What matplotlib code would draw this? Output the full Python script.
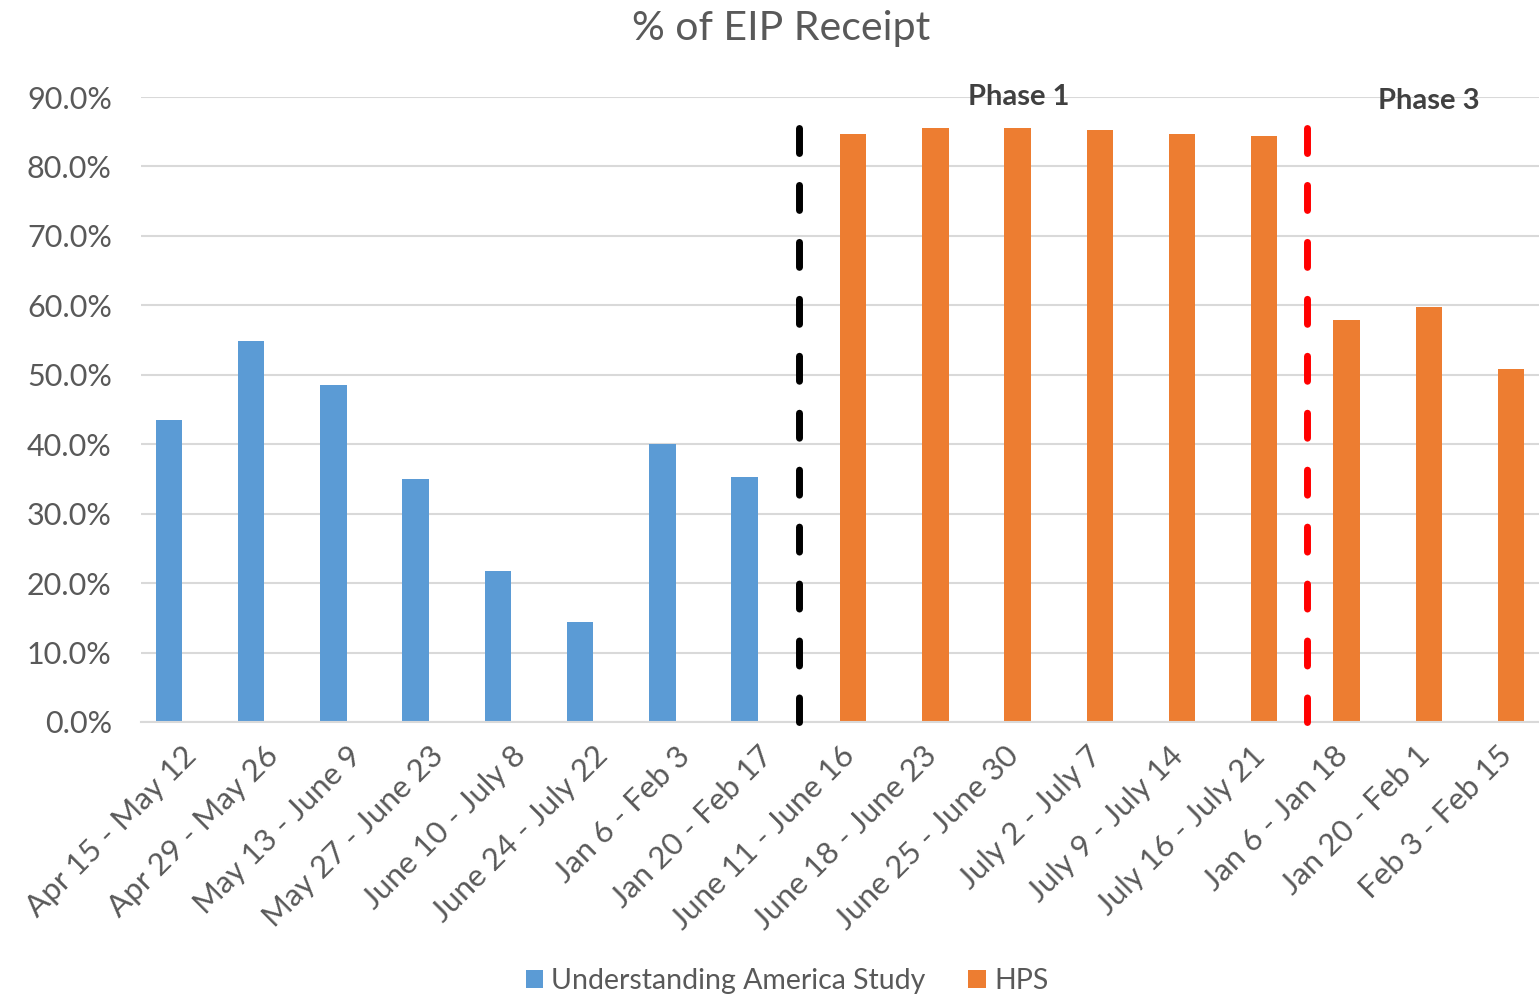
import matplotlib.pyplot as plt
import numpy as np

plt.rcParams['font.family'] = ['Lato', 'DejaVu Sans']

# categories (survey windows)
categories = ['Apr 15 - May 12', 'Apr 29 - May 26', 'May 13 - June 9', 'May 27 - June 23',
              'June 10 - July 8', 'June 24 - July 22', 'Jan 6 - Feb 3', 'Jan 20 - Feb 17',
              'June 11 - June 16', 'June 18 - June 23', 'June 25 - June 30', 'July 2 - July 7',
              'July 9 - July 14', 'July 16 - July 21', 'Jan 6 - Jan 18', 'Jan 20 - Feb 1',
              'Feb 3 - Feb 15']

# Understanding America Study (first 8 windows)
uas_values = [43.5, 54.8, 48.5, 35.0, 21.8, 14.4, 40.0, 35.3]
# HPS (remaining 9 windows)
hps_values = [84.7, 85.5, 85.5, 85.2, 84.7, 84.4, 57.9, 59.8, 50.9]

blue = '#5B9BD5'
orange = '#ED7D31'
gray = '#595959'

fig = plt.figure(figsize=(15.39, 9.98), dpi=100)
ax = fig.add_axes([0.0916, 0.2766, 0.9084, 0.6262])

x = np.arange(len(categories))
w = 0.32
off = 0.16
ax.bar(x[:len(uas_values)] - off, uas_values, width=w, color=blue, label='Understanding America Study')
ax.bar(x[len(uas_values):] + off, hps_values, width=w, color=orange, label='HPS')

# phase separators
ax.plot([7.5, 7.5], [85.6, 0], color='black', lw=5, dashes=(3.6, 4.6),
        dash_capstyle='round', solid_capstyle='round', clip_on=False, zorder=4)
ax.plot([13.68, 13.68], [85.6, 0], color='#FF0000', lw=5, dashes=(3.6, 4.6),
        dash_capstyle='round', solid_capstyle='round', clip_on=False, zorder=4)

ax.text(10.17, 90, 'Phase 1', fontsize=21, fontweight='bold', color='#404040',
        ha='center', va='center')
ax.text(15.16, 89.4, 'Phase 3', fontsize=21, fontweight='bold', color='#404040',
        ha='center', va='center')

ax.set_xlim(-0.5, len(categories) - 0.5)
ax.set_ylim(0, 90)
ax.set_yticks(np.arange(0, 91, 10))
ax.set_yticklabels([f'{v:.1f}%' for v in np.arange(0, 91, 10)], fontsize=22, color=gray)
ax.set_xticks(x)
ax.set_xticklabels(categories, rotation=45, ha='right', rotation_mode='anchor',
                   fontsize=22.5, color=gray)
ax.tick_params(axis='both', length=0)
ax.tick_params(axis='y', pad=21)
ax.tick_params(axis='x', pad=14)

ax.grid(axis='y', color='#D9D9D9', lw=1.5)
ax.set_axisbelow(True)
for s in ['top', 'right', 'left']:
    ax.spines[s].set_visible(False)
ax.spines['bottom'].set_color('#D9D9D9')
ax.spines['bottom'].set_linewidth(1.5)

fig.suptitle('% of EIP Receipt', fontsize=29.5, color=gray, x=0.5075, y=0.99, va='top')

fig.legend(loc='center', bbox_to_anchor=(0.5114, 0.017), ncol=2, frameon=False,
           fontsize=20.5, labelcolor=gray, handlelength=0.6, handleheight=0.6,
           handletextpad=0.3, columnspacing=1.5)

fig.savefig('out.png', dpi=100)
